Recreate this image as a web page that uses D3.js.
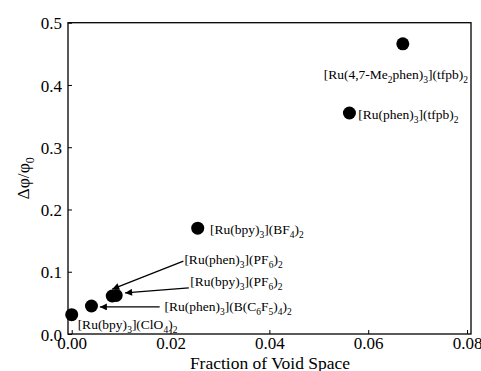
<!DOCTYPE html>
<html><head><meta charset="utf-8">
<script src="https://cdn.jsdelivr.net/npm/d3@7"></script>
<style>body{margin:0;background:#fff}svg{display:block}</style>
</head><body>
<script>
// ---- data ----
const compounds = ["[Ru(bpy)_3](ClO_4)_2","[Ru(phen)_3](B(C_6F_5)_4)_2","[Ru(phen)_3](PF_6)_2","[Ru(bpy)_3](PF_6)_2","[Ru(bpy)_3](BF_4)_2","[Ru(phen)_3](tfpb)_2","[Ru(4,7-Me_2phen)_3](tfpb)_2"];
const voidFraction = [0.0000, 0.0040, 0.0082, 0.0090, 0.0255, 0.0562, 0.0670];
const dPhi = [0.031, 0.045, 0.061, 0.062, 0.170, 0.355, 0.466];
// label anchor (data units)
const labelX = [0.0012, 0.0188, 0.0228, 0.0240, 0.0280, 0.0580, 0.0510];
const labelY = [0.008, 0.037, 0.112, 0.0765, 0.161, 0.346, 0.409];
// arrows: [fromX, fromY, toX, toY] in data units, null if none
const arrows = [null, [0.0178, 0.0435, 0.0057, 0.0435], [0.0226, 0.117, 0.0082, 0.072], [0.0237, 0.074, 0.0108, 0.066], null, null, null];
const xTicks = [0, 0.02, 0.04, 0.06, 0.08];
const yTicks = [0, 0.1, 0.2, 0.3, 0.4, 0.5];

const FONT = "'Liberation Serif', 'Times New Roman', serif";
const W = 481, H = 371;
const m = {l: 68, r: 10, t: 22.7, b: 37};
const svg = d3.select("body").append("svg").attr("width", W).attr("height", H)
  .attr("font-family", FONT).style("font-family", FONT);
const x = d3.scaleLinear().domain([-0.00075, 0.0808]).range([m.l, W - m.r]);
const y = d3.scaleLinear().domain([0, 0.5]).range([H - m.b, m.t]);

svg.append("defs").append("marker").attr("id","ah").attr("viewBox","0 0 10 10")
  .attr("refX",10).attr("refY",5).attr("markerWidth",9).attr("markerHeight",7)
  .attr("markerUnits","userSpaceOnUse").attr("orient","auto")
  .append("path").attr("d","M0,0L10,5L0,10z").attr("fill","#000");

// frame
svg.append("rect").attr("x", m.l).attr("y", m.t).attr("width", W - m.r - m.l).attr("height", H - m.b - m.t)
  .attr("fill","none").attr("stroke","#000").attr("stroke-width",1.3);

const xa = svg.append("g").attr("transform",`translate(0,${H - m.b})`)
  .call(d3.axisBottom(x).tickValues(xTicks).tickFormat(d3.format(".2f")).tickSizeInner(-4).tickSizeOuter(0));
const ya = svg.append("g").attr("transform",`translate(${m.l},0)`)
  .call(d3.axisLeft(y).tickValues(yTicks).tickFormat(d3.format(".1f")).tickSizeInner(-4).tickSizeOuter(0));
[xa, ya].forEach(a => { a.attr("font-family", FONT).attr("font-size", 17);
  a.select(".domain").remove(); a.selectAll("line").attr("stroke","#000");
  a.selectAll("text").style("font-family", FONT).style("font-size","17px").attr("fill","#000"); });
xa.selectAll("text").attr("y", 15).attr("dy", 0);
ya.selectAll("text").attr("x", -6).attr("dy", "0.36em");

// axis titles
svg.append("text").attr("x", 270).attr("y", 368.5).attr("text-anchor","middle")
  .style("font-family", FONT).style("font-size","17.5px").text("Fraction of Void Space");
const yt = svg.append("text").attr("transform",`translate(29,${(m.t + H - m.b) / 2}) rotate(-90)`)
  .attr("text-anchor","middle").style("font-family", FONT).style("font-size","17.5px");
yt.append("tspan").text("Δφ/φ");
yt.append("tspan").attr("dy", 5).style("font-size","12px").text("0");

// points
svg.append("g").selectAll("circle").data(voidFraction).join("circle")
  .attr("cx", d => x(d)).attr("cy", (d, i) => y(dPhi[i])).attr("r", 6.5).attr("fill","#000");

// labels with subscripts (syntax: _X makes X a subscript)
function addLabel(str, px, py) {
  const t = svg.append("text").attr("x", px).attr("y", py)
    .style("font-family", FONT).style("font-size","13.5px");
  const segs = [];
  let buf = "";
  for (let k = 0; k < str.length; k++) {
    if (str[k] === "_") { if (buf) segs.push({s: buf, sub: false}); buf = ""; segs.push({s: str[k+1], sub: true}); k++; }
    else buf += str[k];
  }
  if (buf) segs.push({s: buf, sub: false});
  let off = 0;
  segs.forEach(sg => {
    const target = sg.sub ? 4 : 0;
    const ts = t.append("tspan").attr("dy", target - off).text(sg.s);
    if (sg.sub) ts.style("font-size", "9.5px");
    off = target;
  });
}
compounds.forEach((c, i) => addLabel(c, x(labelX[i]), y(labelY[i])));

// arrows
svg.append("g").selectAll("line").data(arrows.filter(a => a)).join("line")
  .attr("x1", a => x(a[0])).attr("y1", a => y(a[1])).attr("x2", a => x(a[2])).attr("y2", a => y(a[3]))
  .attr("stroke","#000").attr("stroke-width",1.3).attr("marker-end","url(#ah)");
</script>
</body></html>
